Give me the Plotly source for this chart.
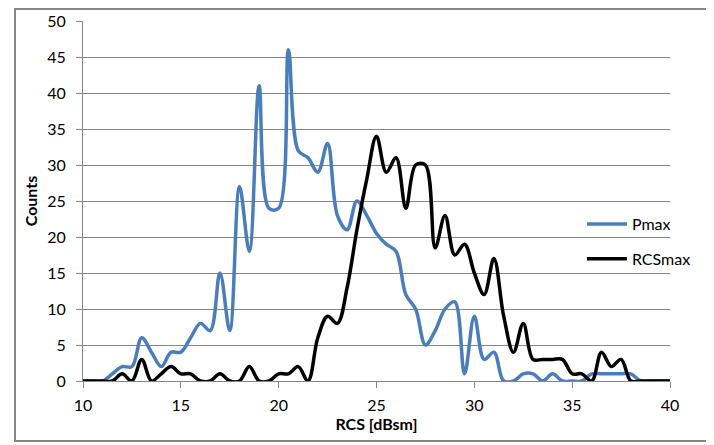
import plotly.graph_objects as go

rcs = [10, 10.5, 11, 11.5, 12, 12.5, 13, 13.5, 14, 14.5, 15, 15.5, 16, 16.5, 17, 17.5,
       18, 18.5, 19, 19.5, 20, 20.5, 21, 21.5, 22, 22.5, 23, 23.5, 24, 24.5, 25, 25.5,
       26, 26.5, 27, 27.5, 28, 28.5, 29, 29.5, 30, 30.5, 31, 31.5, 32, 32.5, 33, 33.5,
       34, 34.5, 35, 35.5, 36, 36.5, 37, 37.5, 38, 38.5, 39, 39.5, 40]

pmax = [0, 0, 0, 1, 2, 2, 6, 4, 2, 4, 4, 6, 8, 7, 15, 7,
        27, 18, 41, 24, 24, 46, 32, 31, 29, 33, 23, 21, 25, 23, 20.5, 19,
        18, 12, 10, 5, 7, 10, 11, 1, 9, 3, 4, 0, 0, 1, 1, 0,
        1, 0, 0, 0, 1, 1, 1, 1, 1, 0, 0, 0, 0]

rcsmax = [0, 0, 0, 0, 1, 0, 3, 0, 1, 2, 1, 1, 0, 0, 1, 0,
          0, 2, 0, 0, 1, 1, 2, 0, 6, 9, 8, 13, 21, 28, 34, 29,
          31, 24, 30, 30, 18.5, 23, 17.5, 19, 15, 12, 17, 9, 4, 8, 3, 3,
          3, 3, 1, 1, 0, 4, 2, 3, 0, 0, 0, 0, 0]

FONT = "Lato, sans-serif"

fig = go.Figure()
fig.add_trace(go.Scatter(x=rcs, y=pmax, name="Pmax", mode="lines",
                         line=dict(color="#4A7EBB", width=3.5, shape="spline", smoothing=1),
                         legendgroup="a"))
fig.add_trace(go.Scatter(x=rcs, y=rcsmax, name="RCSmax", mode="lines",
                         line=dict(color="#000000", width=3.5, shape="spline", smoothing=1),
                         legendgroup="b"))

# page offset of 8px (body margin) -> plot area at page x 83..670, y 21..381
W, H = 706, 437
L, T = 75, 13
PW, PH = 587, 360

fig.update_layout(
    width=W, height=H,
    margin=dict(l=L, r=W - L - PW, t=T, b=H - T - PH, autoexpand=False),
    paper_bgcolor="white", plot_bgcolor="white",
    font=dict(family=FONT, size=16, color="#000000"),
    showlegend=True,
    legend=dict(x=0.850, y=0.3875, xanchor="left", yanchor="middle",
                bgcolor="rgba(0,0,0,0)", font=dict(size=16),
                tracegroupgap=11, traceorder="grouped", itemwidth=40),
    xaxis=dict(range=[10, 40], tickvals=[10, 15, 20, 25, 30, 35, 40],
               showgrid=False, zeroline=False, automargin=False,
               showline=True, linecolor="#868686", linewidth=1,
               ticks="outside", ticklen=6, tickcolor="#868686",
               ticklabelstandoff=4,
               title=dict(text="<b>RCS [dBsm]</b>", standoff=0, font=dict(size=16))),
    yaxis=dict(range=[0, 50], tickvals=list(range(0, 51, 5)),
               showgrid=True, gridcolor="#868686", gridwidth=1, zeroline=False,
               automargin=False,
               showline=True, linecolor="#868686", linewidth=1,
               ticks="outside", ticklen=6, tickcolor="#868686",
               ticklabelstandoff=7,
               title=dict(text="<b>Counts</b>", standoff=5, font=dict(size=16))),
    shapes=[dict(type="rect", xref="paper", yref="paper",
                 x0=(15 - 83) / PW, x1=(713 - 83) / PW,
                 y0=(381 - 441) / PH, y1=(381 - 9) / PH,
                 line=dict(color="#868686", width=2), fillcolor="rgba(0,0,0,0)",
                 layer="below")],
)

fig.write_html("out.html")
